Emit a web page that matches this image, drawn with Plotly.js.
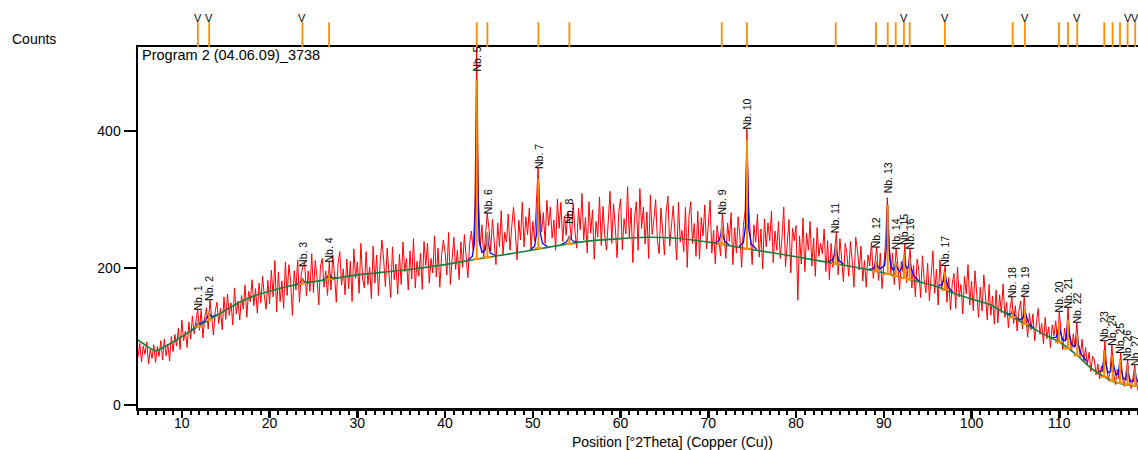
<!DOCTYPE html>
<html>
<head>
<meta charset="utf-8">
<script src="https://cdn.plot.ly/plotly-3.0.1.min.js"></script>
<style>
html,body{margin:0;padding:0;overflow:hidden;background:#fff;width:1138px;height:450px}
#chart{width:1160px;height:450px}
</style>
</head>
<body>
<div id="chart"></div>
<script>
// ---- measured pattern (counts every 0.2 deg 2Theta, starting at 5 deg) ----
const thetaStart = 5;
const thetaStep = 0.2;
const redCounts = [
 70, 90, 63, 86, 74,   92, 60, 81, 68, 88,   62, 85, 71, 94, 66,   96, 72, 89, 64, 100,   78, 103, 86, 112, 81,
 124, 94, 108, 84, 121,   96, 130, 104, 121, 140,   109, 138, 98, 127, 142,   111, 153, 126, 102, 137,   150, 119, 141, 110, 158,
 125, 162, 131, 149, 117,   171, 133, 152, 124, 160,   140, 175, 128, 166, 151,   183, 145, 170, 134, 178,   149, 188, 159, 140, 182,
 148, 197, 158, 211, 136,   194, 151, 181, 141, 209,   160, 205, 180, 131, 196,   168, 212, 150, 190, 203,   207, 159, 196, 166, 221,
 164, 211, 187, 146, 203,   214, 172, 196, 160, 209,   168, 219, 190, 150, 206,   224, 175, 199, 161, 213,   170, 210, 151, 228, 185,
 209, 163, 236, 184, 171,   224, 176, 201, 155, 232,   178, 219, 160, 208, 241,   212, 173, 229, 188, 157,   231, 183, 206, 162, 220,
 176, 238, 195, 214, 168,   225, 184, 243, 171, 210,   188, 222, 169, 239, 204,   236, 178, 214, 193, 247,   187, 229, 172, 218, 241,
 224, 190, 252, 176, 213,   245, 198, 226, 183, 238,   201, 249, 217, 186, 236,   254, 226, 290, 530, 305,   232, 263, 214, 247, 280,
 258, 225, 271, 239, 205,   266, 231, 284, 219, 252,   238, 279, 226, 261, 289,   254, 212, 270, 241, 296,   231, 275, 249, 288, 226,
 268, 240, 294, 346, 287,   253, 281, 236, 299, 262,   289, 244, 270, 226, 301,   258, 296, 239, 276, 248,   281, 266, 243, 295, 254,
 229, 287, 256, 309, 241,   274, 222, 297, 251, 285,   213, 268, 245, 304, 233,   290, 247, 226, 279, 312,   236, 294, 259, 215, 283,
 301, 227, 272, 250, 319,   244, 288, 208, 275, 297,   226, 316, 258, 289, 235,   282, 214, 307, 249, 271,   300, 240, 221, 288, 257,
 219, 283, 305, 232, 268,   291, 251, 212, 296, 238,   255, 224, 289, 201, 276,   297, 236, 265, 217, 283,   213, 274, 247, 292, 228,
 269, 299, 222, 255, 206,   262, 241, 218, 280, 252,   214, 266, 239, 281, 205,   259, 222, 275, 246, 201,   262, 284, 403, 290, 244,
 205, 263, 238, 279, 216,   257, 199, 272, 231, 266,   240, 283, 208, 254, 226,   268, 214, 245, 289, 202,   236, 271, 193, 258, 240,
 262, 153, 247, 206, 273,   195, 251, 226, 268, 203,   244, 188, 259, 217, 236,   221, 257, 195, 240, 183,   236, 201, 228, 252, 190,
 243, 213, 180, 236, 221,   188, 239, 210, 172, 245,   226, 197, 232, 181, 211,   172, 219, 203, 238, 185,   214, 231, 182, 222, 170,
 208, 237, 303, 241, 190,   222, 176, 229, 205, 168,   210, 194, 236, 179, 207,   229, 171, 204, 158, 213,   196, 157, 218, 183, 164,
 207, 152, 190, 225, 163,   198, 146, 212, 169, 187,   204, 150, 186, 139, 177,   192, 141, 201, 158, 176,   133, 188, 162, 205, 146,
 181, 138, 196, 160, 128,   172, 137, 190, 149, 124,   176, 131, 159, 118, 168,   120, 161, 135, 177, 128,   150, 113, 141, 158, 119,
 145, 108, 137, 152, 111,   159, 127, 99, 134, 110,   133, 94, 120, 141, 103,   119, 89, 128, 97, 114,   84, 117, 101, 123, 90,
 136, 108, 81, 112, 95,   143, 99, 78, 104, 86,   120, 87, 70, 96, 64,   84, 58, 77, 49, 71,   66, 44, 60, 38, 57,
 48, 93, 55, 36, 50,   88, 46, 30, 52, 38,   77, 41, 27, 45, 66,   35, 24, 40, 58, 31,   20, 37, 25, 33, 18,
 29
];

// ---- fitted background ----
const bgTheta  = [5, 6, 7, 8, 9, 10, 12, 14, 16, 18, 20, 22, 24, 26, 28, 30, 33, 36, 40, 44, 48, 52, 56, 60, 63, 66, 70, 74, 78, 82, 86, 90, 93, 96, 98, 100, 102, 104, 106, 108, 110, 112, 113.5, 115, 116.5, 118, 120];
const bgCounts = [95, 86, 79, 85, 92, 100, 116, 131, 146, 158, 166, 173, 178, 182, 186, 190, 194, 198, 205, 214, 222, 231, 239, 243, 245, 244, 238, 229, 221, 212, 203, 193, 183, 173, 163, 155, 147, 133, 119, 105, 92, 73, 55, 42, 33, 29, 26];

// ---- peak list ----
const peakNames = ['Nb. 1','Nb. 2','Nb. 3','Nb. 4','Nb. 5','Nb. 6','Nb. 7','Nb. 8','Nb. 9','Nb. 10','Nb. 11','Nb. 12','Nb. 13','Nb. 14','Nb. 15','Nb. 16','Nb. 17','Nb. 18','Nb. 19','Nb. 20','Nb. 21','Nb. 22','Nb. 23','Nb. 24','Nb. 25','Nb. 26','Nb. 27'];
const peakTheta = [11.82, 13.11, 23.74, 26.78, 43.61, 44.82, 50.63, 54.17, 71.53, 74.41, 84.52, 89.11, 90.45, 91.36, 92.30, 92.95, 96.97, 104.69, 106.09, 109.97, 110.99, 112.05, 115.13, 116.08, 116.92, 117.79, 118.66];
const peakBase  = [114.6, 124.3, 177.4, 183.6, 213.1, 215.6, 228.9, 235.3, 234.6, 228.2, 206.3, 195.2, 191.5, 188.5, 185.3, 183.2, 168.2, 128.2, 118.4, 92.2, 82.6, 72.4, 41.2, 35.5, 31.9, 29.6, 28];
const peakTop   = [123, 136, 185, 193, 475, 252, 331, 247, 260, 387, 232, 210, 292, 209, 219, 214, 194, 139, 140, 121, 124, 101, 80, 72, 66, 54, 48];
const labelCounts = [140, 153, 203, 209, 489, 280, 346, 266, 280, 403, 252, 231, 311, 229, 236, 229, 204, 158, 159, 136, 143, 120, 93, 88, 77, 66, 58];
const markedPeaks = [1, 2, 3, 15, 17, 19, 22, 26, 27];
const xTickValues = [10, 20, 30, 40, 50, 60, 70, 80, 90, 100, 110];
const yTickValues = [0, 200, 400];

// ---- calculated profile near the peaks ----
const profileTheta = [
 11.0, 11.5, 11.7, 11.82, 11.95, 12.2, 12.6, 12.9, 13.0, 13.11, 13.22, 13.45, 14.0, null,
 23.0, 23.4, 23.6, 23.74, 23.88, 24.1, 24.6, null,
 26.0, 26.45, 26.65, 26.78, 26.91, 27.15, 27.7, null,
 42.6, 43.1, 43.35, 43.5, 43.61, 43.72, 43.88, 44.2, 44.55, 44.72, 44.82, 44.93, 45.15, 45.8, null,
 49.7, 50.2, 50.45, 50.55, 50.63, 50.71, 50.83, 51.1, 51.7, null,
 53.3, 53.8, 54.02, 54.17, 54.33, 54.6, 55.2, null,
 70.8, 71.2, 71.4, 71.53, 71.66, 71.9, 72.4, null,
 73.5, 74.0, 74.24, 74.34, 74.41, 74.49, 74.6, 74.9, 75.5, null,
 83.7, 84.15, 84.37, 84.52, 84.67, 84.9, 85.4, null,
 88.3, 88.8, 89.0, 89.11, 89.25, 89.6, 90.1, 90.32, 90.45, 90.58, 90.8, 91.1, 91.25, 91.36, 91.5, 91.8, 92.15, 92.3, 92.45, 92.7, 92.83, 92.95, 93.08, 93.4, 94.0, null,
 96.2, 96.65, 96.84, 96.97, 97.1, 97.35, 97.9, null,
 103.9, 104.35, 104.56, 104.69, 104.82, 105.1, 105.6, 105.85, 105.98, 106.09, 106.22, 106.5, 107.1, null,
 109.2, 109.65, 109.85, 109.97, 110.1, 110.4, 110.7, 110.87, 110.99, 111.12, 111.4, 111.75, 111.93, 112.05, 112.18, 112.5, 113.2, null,
 114.4, 114.85, 115.02, 115.13, 115.25, 115.55, 115.85, 115.97, 116.08, 116.2, 116.45, 116.72, 116.83, 116.92, 117.02, 117.3, 117.6, 117.7, 117.79, 117.9, 118.15, 118.46, 118.57, 118.66, 118.76, 119.1, 119.8
];
const profileCounts = [
 108.5, 113, 117, 123, 119, 119.5, 123, 128, 131, 136, 131, 129, 131.5, null,
 176, 178, 180.5, 185, 181, 179, 179.3, null,
 182.3, 184.5, 188, 193, 188.5, 185.5, 185.6, null,
 211.5, 217, 236, 320, 475, 318, 240, 223, 226, 237, 252, 236, 222, 218, null,
 226.5, 232, 252, 300, 331, 298, 253, 236, 231, null,
 234.5, 238, 242, 247, 242.5, 239.5, 238, null,
 237, 240, 247, 260, 247.5, 239, 233.5, null,
 231.5, 237, 262, 335, 387, 333, 258, 235, 227.5, null,
 209.5, 212, 219, 232, 219.5, 211, 205.5, null,
 198, 199.5, 203, 210, 203.5, 199, 204, 232, 292, 230, 204, 196.5, 200, 209, 201, 195, 203, 219, 204, 199, 203.5, 214, 202, 189, 181, null,
 173.5, 176.5, 183, 194, 182.5, 172, 164.5, null,
 134.5, 132.5, 134, 139, 133, 127.5, 124.5, 127, 133, 140, 131, 119, 112, null,
 98.5, 99, 106, 121, 107, 95, 94, 106, 124, 106, 89, 85, 91, 101, 88, 74, 63, null,
 48.5, 50, 62, 80, 63, 47, 49, 59, 72, 58, 44, 45, 54, 66, 53, 39, 37, 44, 54, 44, 34, 35, 40, 48, 40, 30, 27
];

// ---- styling ----
const FONT = 'Liberation Sans, Arial, Helvetica, sans-serif';
const RED = '#ff0000', BLUE = '#0000ff', GREEN = '#13813a', ORANGE = '#ff8c00';
const baseHalfWidth = 0.45;

// orange peak sticks built from the peak list
const stickX = [], stickY = [];
peakTheta.forEach((p, i) => {
  stickX.push(p - baseHalfWidth, p + baseHalfWidth, null, p, p, null);
  stickY.push(peakBase[i], peakBase[i], null, peakBase[i], peakTop[i], null);
});

const traces = [
  {type: 'scatter', mode: 'lines', x0: thetaStart, dx: thetaStep, y: redCounts,
   line: {color: RED, width: 1}, hoverinfo: 'skip'},
  {type: 'scatter', mode: 'lines', x: profileTheta, y: profileCounts, connectgaps: false,
   line: {color: BLUE, width: 1.3}, hoverinfo: 'skip'},
  {type: 'scatter', mode: 'lines', x: bgTheta, y: bgCounts,
   line: {color: GREEN, width: 1.6, shape: 'spline', smoothing: 0.6}, hoverinfo: 'skip'},
  {type: 'scatter', mode: 'lines', x: stickX, y: stickY, connectgaps: false,
   line: {color: ORANGE, width: 2}, hoverinfo: 'skip'}
];

const W = 1160, H = 450, ML = 138, MR = 13, MT = 47, MB = 42;
const PW = W - ML - MR, PH = H - MT - MB;
const pxX = px => (px - ML) / PW;          // page pixel -> paper x
const pxY = py => (H - MB - py) / PH;      // page pixel -> paper y

const annotations = [];
peakTheta.forEach((p, i) => {
  annotations.push({
    x: p, y: labelCounts[i], xref: 'x', yref: 'y', text: peakNames[i],
    textangle: -90, showarrow: false, xanchor: 'center', yanchor: 'bottom', yshift: -3,
    font: {family: FONT, size: 10.5, color: '#000'}
  });
});
markedPeaks.forEach(n => {
  annotations.push({
    x: peakTheta[n - 1], y: pxY(18), xref: 'x', yref: 'paper', text: 'V',
    showarrow: false, xanchor: 'center', yanchor: 'middle',
    font: {family: FONT, size: 11, color: '#000'}
  });
});
annotations.push(
  {x: pxX(34), y: pxY(39), xref: 'paper', yref: 'paper', text: 'Counts', showarrow: false,
   xanchor: 'center', yanchor: 'middle', font: {family: FONT, size: 14, color: '#000'}},
  {x: pxX(672), y: pxY(442), xref: 'paper', yref: 'paper', text: 'Position [°2Theta] (Copper (Cu))',
   showarrow: false, xanchor: 'center', yanchor: 'middle', font: {family: FONT, size: 14, color: '#000'}},
  {x: pxX(140), y: pxY(45), xref: 'paper', yref: 'paper', text: 'Program 2 (04.06.09)_3738',
   showarrow: false, xanchor: 'left', yanchor: 'top', font: {family: FONT, size: 14.5, color: '#000'}}
);

const shapes = peakTheta.map(p => ({
  type: 'line', xref: 'x', yref: 'paper', x0: p, x1: p, y0: 1, y1: pxY(22.3),
  line: {color: ORANGE, width: 1.8}
}));

const layout = {
  width: W, height: H,
  margin: {l: ML, r: MR, t: MT, b: MB, pad: 0},
  paper_bgcolor: '#fff', plot_bgcolor: '#fff',
  showlegend: false,
  font: {family: FONT, size: 14, color: '#000'},
  xaxis: {
    range: [5, 120], showgrid: false, zeroline: false,
    showline: true, linecolor: '#000', linewidth: 2.5, mirror: true,
    ticks: 'outside', ticklen: 7, tickwidth: 2.5, tickcolor: '#000',
    tickmode: 'array', tickvals: xTickValues, ticklabelstandoff: -6,
    tickfont: {family: FONT, size: 14, color: '#000'},
    minor: {dtick: 1, tick0: 0, ticks: 'outside', ticklen: 4, tickwidth: 2, tickcolor: '#000', showgrid: false}
  },
  yaxis: {
    range: [-4.4, 522.9], showgrid: false, zeroline: false,
    showline: true, linecolor: '#000', linewidth: 2.5,
    ticks: 'outside', ticklen: 12, tickwidth: 2.5, tickcolor: '#000',
    tickmode: 'array', tickvals: yTickValues, tickfont: {family: FONT, size: 14, color: '#000'}
  },
  annotations: annotations,
  shapes: shapes
};

Plotly.newPlot('chart', traces, layout, {staticPlot: true, displayModeBar: false});
</script>
</body>
</html>
